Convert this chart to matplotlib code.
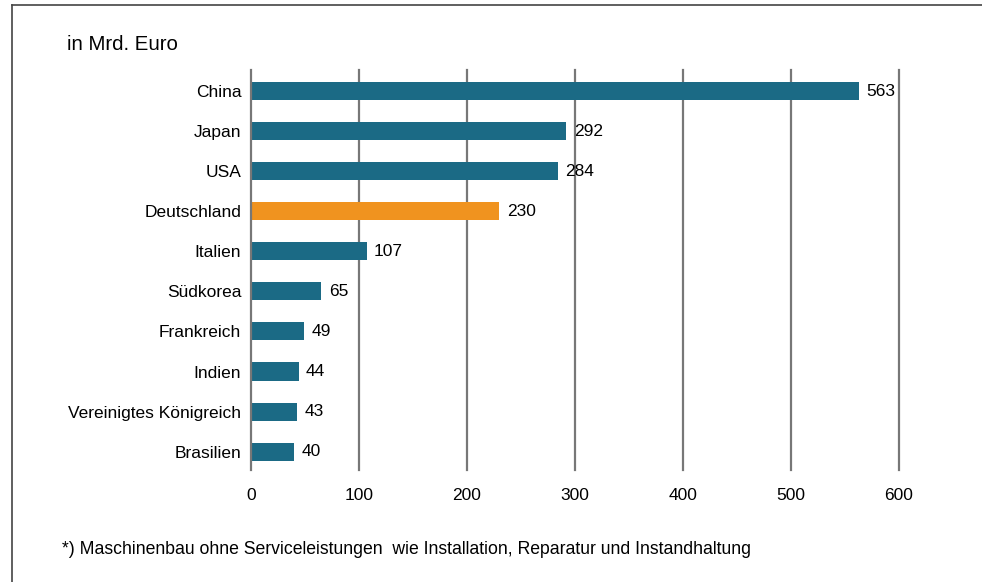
import matplotlib.pyplot as plt
from matplotlib.lines import Line2D

plt.rcParams['font.family'] = ['Liberation Sans', 'DejaVu Sans']

# data
laender = ['China', 'Japan', 'USA', 'Deutschland', 'Italien', 'Südkorea',
           'Frankreich', 'Indien', 'Vereinigtes Königreich', 'Brasilien']
umsatz = [563, 292, 284, 230, 107, 65, 49, 44, 43, 40]
xticks = [0, 100, 200, 300, 400, 500, 600]

teal = '#1b6a85'
orange = '#f0931f'
farben = [orange if l == 'Deutschland' else teal for l in laender]

fig = plt.figure(figsize=(9.82, 5.82), dpi=100)
ax = fig.add_axes([251/982, 1-470/582, 648/982, 400/582])

pos = list(range(len(laender)))
ax.barh(pos, umsatz, height=0.45, color=farben, zorder=3)
for p, v in zip(pos, umsatz):
    ax.text(v + 7, p, str(v), va='center', ha='left', fontsize=12.5, clip_on=False)

ax.set_xlim(0, 600)
ax.set_ylim(9.46, -0.53)
ax.set_xticks(xticks)
ax.set_yticks(pos)
ax.set_yticklabels(laender, fontsize=12.5)
ax.tick_params(axis='x', labelsize=12.5, length=0, pad=13)
ax.tick_params(axis='y', length=0, pad=7)
for s in ax.spines.values():
    s.set_visible(False)
# vertical grid lines, drawn unclipped so the outer ones keep full width
for t in xticks:
    ax.axvline(t, color='#777777', linewidth=1.6, zorder=4 if t == 0 else 0,
               clip_on=False)

fig.text(67/982, 1-44/582, 'in Mrd. Euro', fontsize=14.7, va='center', ha='left')
fig.text(62/982, 1-550/582,
         '*) Maschinenbau ohne Serviceleistungen  wie Installation, Reparatur und Instandhaltung',
         fontsize=12.7, va='center', ha='left')

# frame: only top and left edge visible
fig.add_artist(Line2D([12/982, 12/982], [0, 1-5/582], transform=fig.transFigure,
                      color='#444444', linewidth=1.2))
fig.add_artist(Line2D([12/982, 1], [1-5/582, 1-5/582], transform=fig.transFigure,
                      color='#444444', linewidth=1.2))

fig.savefig('out.png', dpi=100)
